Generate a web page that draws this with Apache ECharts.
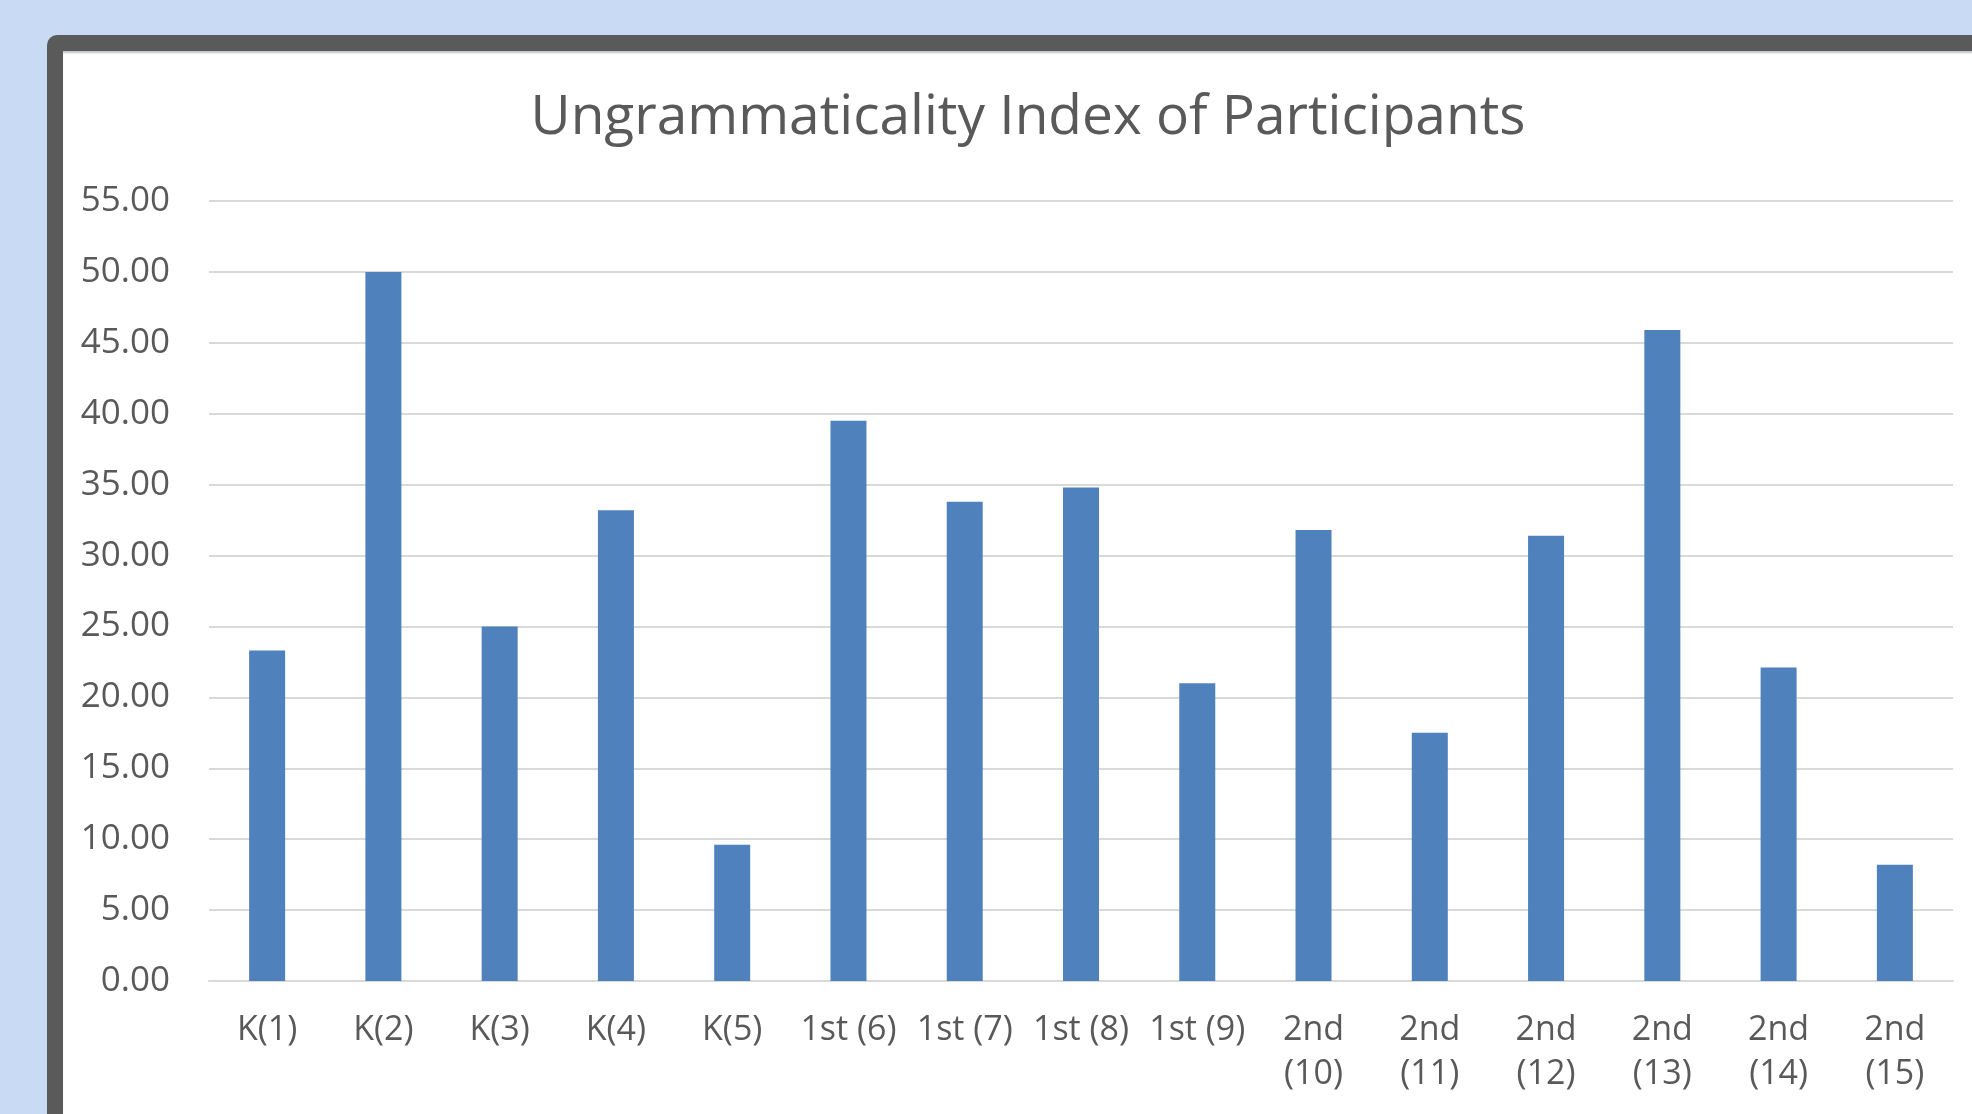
<!DOCTYPE html>
<html>
<head>
<meta charset="utf-8">
<script src="https://cdn.jsdelivr.net/npm/echarts@6/dist/echarts.min.js"></script>
<style>
  html, body { margin: 0; padding: 0; width: 1972px; height: 1114px; overflow: hidden; background: #c9daf5; }
  #frame { position: absolute; left: 47px; top: 35px; width: 2000px; height: 1200px; background: #5a5a5a; border-radius: 10px; }
  #paper { position: absolute; left: 63px; top: 51px; width: 2000px; height: 1200px; background: #fff; box-shadow: inset 0 3px 2px -1px #bfc5cc; }
  #chart { position: absolute; left: 0; top: 0; width: 1972px; height: 1114px; }
</style>
</head>
<body>
<div id="frame"></div>
<div id="paper"></div>
<div id="chart"></div>
<script>
// participants
const categories = [
  "K(1)", "K(2)", "K(3)", "K(4)", "K(5)",
  "1st (6)", "1st (7)", "1st (8)", "1st (9)",
  "2nd\n(10)", "2nd\n(11)", "2nd\n(12)", "2nd\n(13)", "2nd\n(14)", "2nd\n(15)"
];
// ungrammaticality index
const values = [23.3, 50.0, 25.0, 33.2, 9.6, 39.5, 33.8, 34.8, 21.0, 31.8, 17.5, 31.4, 45.9, 22.1, 8.2];

const chart = echarts.init(document.getElementById("chart"));

const option = {
  animation: false,
  title: {
    text: "Ungrammaticality Index of Participants",
    left: 1023,
    top: 86,
    textAlign: "center",
    textStyle: {
      fontFamily: "Open Sans",
      fontSize: 55,
      fontWeight: "normal",
      color: "#595959",
    },
  },
  grid: {
    left: 209,
    right: 19,
    top: 201,
    bottom: 133,
  },
  xAxis: {
    type: "category",
    data: categories,
    axisLine: { show: true, lineStyle: { color: "#d9d9d9", width: 2 } },
    axisTick: { show: false },
    axisLabel: {
      interval: 0,
      margin: 27,
      fontFamily: "Open Sans",
      fontSize: 34,
      lineHeight: 44,
      color: "#595959",
    },
  },
  yAxis: {
    type: "value",
    min: 0,
    max: 55,
    interval: 5,
    axisLine: { show: false },
    axisTick: { show: false },
    splitLine: { show: true, lineStyle: { color: "#d9d9d9", width: 2 } },
    axisLabel: {
      margin: 39,
      fontFamily: "Open Sans",
      fontSize: 35,
      color: "#595959",
      formatter: function (v) {
        return v.toFixed(2);
      },
    },
  },
  series: [
    {
      type: "bar",
      data: values,
      barWidth: 36,
      itemStyle: { color: "#4f81bd" },
    },
  ],
};

chart.setOption(option);
</script>
</body>
</html>
